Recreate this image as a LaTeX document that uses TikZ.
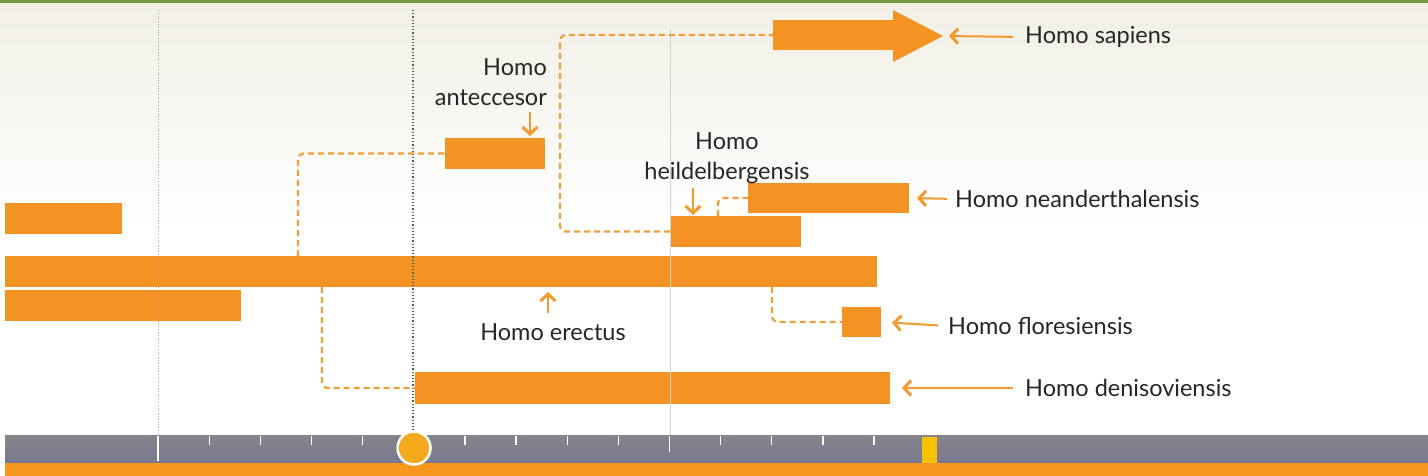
\documentclass[tikz,border=0pt]{standalone}
\usepackage{fontspec}
\setmainfont{Lato}
\usetikzlibrary{arrows.meta,calc}
\definecolor{baror}{HTML}{F39323}
\definecolor{dashor}{HTML}{EF9E3A}
\definecolor{labor}{HTML}{F29A2E}
\definecolor{txt}{HTML}{262626}
\definecolor{tlgray}{HTML}{84848A}
\definecolor{tlgray2}{HTML}{7A7890}
\definecolor{tlor}{HTML}{F7981D}
\definecolor{topgreen}{HTML}{6F9A3E}
\definecolor{bgtop}{HTML}{F1EFE6}
\definecolor{yelmark}{HTML}{F6C200}
\begin{document}
\begin{tikzpicture}[x=1pt,y=-1pt,
  bar/.style={fill=baror,draw=none,inner sep=0pt,outer sep=0pt,anchor=north west},
  dashline/.style={draw=dashor,line width=2.2pt,dash pattern=on 6pt off 4pt,rounded corners=6pt},
  lab/.style={draw=labor,line width=2pt,-{Straight Barb[length=7pt,width=15pt,line width=3pt]}},
  lbl/.style={text=txt,inner sep=0pt,font=\fontsize{23.5}{30}\selectfont}
]
\useasboundingbox (0,0) rectangle (1428,476);
% background
\shade[top color=bgtop,bottom color=white] (0,3) rectangle (1428,230);
\fill[white] (0,230) rectangle (1428,435);
\fill[topgreen] (0,0) rectangle (1428,3);

% bars
\node[bar,minimum width=117,minimum height=31] (lb1) at (5,203) {};
\node[bar,minimum width=872,minimum height=31] (ere) at (5,256) {};
\node[bar,minimum width=236,minimum height=31] (lb2) at (5,290) {};
\node[bar,minimum width=100,minimum height=31] (ant) at (445,138) {};
\node[bar,minimum width=131,minimum height=31] (hei) at (670,216) {};
\node[bar,minimum width=161,minimum height=30] (nea) at (748,183) {};
\node[bar,minimum width=39,minimum height=30] (flo) at (842,307) {};
\node[bar,minimum width=475,minimum height=32] (den) at (415,372) {};
\node[bar,minimum width=122,minimum height=30] (sap) at (773,20) {};
\fill[baror] (893,10) -- (943,36) -- (893,62) -- cycle;
\coordinate (saptip) at (943,36);

% guide lines
\draw[gray!70,line width=0.8pt,dotted] (158,10) -- (158,435);
\draw[black!65,line width=1.2pt,dash pattern=on 1.2pt off 2pt] (413,10) -- (413,435);
\draw[gray!35,line width=0.7pt] (670,30) -- (670,435);

% dashed connectors
\coordinate (c1) at (298,0);
\coordinate (c2) at (560,0);
\coordinate (c3) at (718,0);
\coordinate (c4) at (772,0);
\coordinate (c5) at (322,0);
\draw[dashline] (c1 |- ere.north) |- (ant.west);
\draw[dashline] (hei.west) -| (c2 |- sap.west) -- (sap.west);
\draw[dashline] (c3 |- hei.north) |- (nea.west);
\draw[dashline] (c4 |- ere.south) |- (flo.west);
\draw[dashline] (c5 |- ere.south) |- (den.west);

% labels
\node[lbl,anchor=west] (tsap) at (1025,37) {Homo sapiens};
\node[lbl,anchor=west] (tnea) at (955,199) {Homo neanderthalensis};
\node[lbl,anchor=west] (tflo) at (948,326) {Homo floresiensis};
\node[lbl,anchor=west] (tden) at (1025,388) {Homo denisoviensis};
\node[lbl,align=right,anchor=east] (tant) at (547,82) {Homo\\anteccesor};
\node[lbl,align=center] (thei) at (727,158) {Homo\\heildelbergensis};
\node[lbl] (tere) at (553,332) {Homo erectus};

\draw[lab,shorten <=12pt,shorten >=6pt] (tsap.west) -- (saptip);
\draw[lab,shorten <=8pt,shorten >=8pt] (tnea.west) -- (nea.east);
\draw[lab,shorten <=10pt,shorten >=11pt] (tflo.west) -- (flo.east);
\draw[lab,shorten <=12pt,shorten >=12pt] (tden.west) -- (den.east);
\coordinate (antA) at (530,112);
\coordinate (heiA) at (693,188);
\coordinate (ereA) at (548,313);
\draw[lab,shorten >=2pt] (antA) -- (antA |- ant.north);
\draw[lab,shorten >=1pt] (heiA) -- (heiA |- hei.north);
\draw[lab,shorten >=5pt] (ereA) -- (ereA |- ere.south);

% timeline
\shade[top color=tlgray,bottom color=tlgray2] (5,435) rectangle (1428,463);
\fill[tlor] (5,463) rectangle (1428,476);
\foreach \k in {1,...,14}{
  \draw[white,line width=1.3pt] ({158+51.15*\k},436) -- ({158+51.15*\k},445);
}
\draw[white,line width=1.3pt] (158,436) -- (158,461);
\draw[white,line width=1.3pt] (669.5,436) -- (669.5,452);
\fill[yelmark] (922,437) rectangle (937,463);
\node[circle,fill=baror!80!yellow,draw=white,line width=2.5pt,minimum size=33pt,inner sep=0pt] (now) at (414,448) {};
\end{tikzpicture}
\end{document}
